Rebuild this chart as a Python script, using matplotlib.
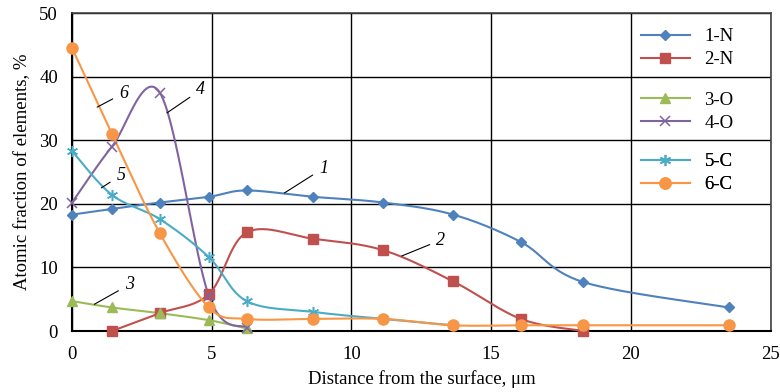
import numpy as np
import matplotlib
matplotlib.use("Agg")
import matplotlib.pyplot as plt

plt.rcParams['font.family'] = ['Liberation Serif', 'DejaVu Serif']

# distance from the surface, um (measurement depths)
depth = [0, 1.43, 3.14, 4.9, 6.25, 8.64, 11.14, 13.64, 16.06, 18.29, 23.5]

n1 = [18.3, 19.2, 20.2, 21.1, 22.1, 21.1, 20.2, 18.3, 14.0, 7.7, 3.7]
n2 = [0.0, 2.8, 5.8, 15.5, 14.5, 12.7, 7.8, 1.9, 0.0]
o3 = [4.7, 3.7, 2.8, 1.7, 0.4]
o4 = [20.2, 29.0, 37.5, 5.5, 0.5]
c5 = [28.3, 21.4, 17.6, 11.6, 4.7, 3.0, 1.9, 0.9]
c6 = [44.5, 31.0, 15.4, 3.7, 1.9, 1.9, 1.9, 0.9, 0.9, 0.9, 0.9]

x_n2 = depth[1:10]
x_o = depth[:5]
x_c5 = depth[:8]

labels = ['1-N', '2-N', '3-O', '4-O', '5-C', '6-C']
colors = ['#4F81BD', '#C0504D', '#9BBB59', '#8064A2', '#4BACC6', '#F79646']
markers = ['D', 's', '^', 'x', (6, 2, 0), 'o']
msizes = [5.5, 7.5, 7, 7, 8, 8]

# curve labels: text position and leader line start
curve_tags = ['1', '2', '3', '4', '5', '6']
tag_xy = [(9.0, 25.6), (13.2, 14.3), (2.05, 7.3), (4.6, 37.9), (1.75, 24.5), (1.85, 37.4)]
tag_from = [(7.6, 21.7), (11.8, 11.8), (0.8, 4.2), (3.4, 34.3), (1.05, 22.5), (0.9, 35.2)]


def smooth(x, y, steps=30):
    # Excel-style smoothed line (Catmull-Rom as cubic Bezier)
    x = np.asarray(x, float)
    y = np.asarray(y, float)
    p = np.column_stack([x, y])
    pts = np.vstack([p[0], p, p[-1]])
    out = []
    t = np.linspace(0, 1, steps)[:, None]
    for i in range(1, len(pts) - 2):
        p0, p1, p2, p3 = pts[i - 1], pts[i], pts[i + 1], pts[i + 2]
        c1 = p1 + (p2 - p0) / 6
        c2 = p2 - (p3 - p1) / 6
        seg = ((1 - t) ** 3) * p1 + 3 * ((1 - t) ** 2) * t * c1 + 3 * (1 - t) * t ** 2 * c2 + t ** 3 * p2
        out.append(seg)
    s = np.vstack(out)
    return s[:, 0], s[:, 1]


fig = plt.figure(figsize=(7.8, 3.92), dpi=100)
ax = fig.add_axes([0.0923, 0.1556, 0.8957, 0.8112])

series = [(depth, n1), (x_n2, n2), (x_o, o3), (x_o, o4), (x_c5, c5), (depth, c6)]
handles = []
for (xs, ys), lab, col, mk, ms in zip(series, labels, colors, markers, msizes):
    sx, sy = smooth(xs, ys)
    ax.plot(sx, sy, color=col, lw=1.5, zorder=3, clip_on=False)
    thin = mk == 'x' or isinstance(mk, tuple)
    ax.plot(xs, ys, ls='none', marker=mk, ms=ms, color=col, mec=col,
            mew=1.1 if thin else 1, zorder=4, clip_on=False)
    h, = ax.plot([], [], color=col, lw=1.5, marker=mk, ms=ms, mec=col,
                 mew=1.1 if thin else 1)
    handles.append(h)

for tag, (tx, ty), (fx, fy) in zip(curve_tags, tag_xy, tag_from):
    ax.annotate(tag, xy=(fx, fy), xytext=(tx, ty), fontsize=13, style='italic',
                ha='center', va='center', zorder=5,
                arrowprops=dict(arrowstyle='-', color='black', lw=0.8, shrinkA=3, shrinkB=0))

ax.set_xlim(0, 25)
ax.set_ylim(0, 50)
ax.set_xticks([0, 5, 10, 15, 20, 25])
ax.set_yticks([0, 10, 20, 30, 40, 50])
ax.grid(True, color='black', lw=1)
ax.set_axisbelow(True)
ax.tick_params(length=0, labelsize=13.5)
ax.tick_params(axis='x', pad=11)
ax.tick_params(axis='y', pad=10)
for sp in ['left', 'bottom']:
    ax.spines[sp].set_linewidth(1.5)
for sp in ['top', 'right']:
    ax.spines[sp].set_color('#444444')
    ax.spines[sp].set_linewidth(1.2)

ax.set_xlabel('Distance from the surface, μm', fontsize=13.5, labelpad=5)
ax.set_ylabel('Atomic fraction of elements, %', fontsize=13.5, labelpad=6)

leg_y = [1.005, 0.805, 0.612]
for k in range(3):
    lg = ax.legend(handles[2 * k:2 * k + 2], labels[2 * k:2 * k + 2], loc='upper left',
                   bbox_to_anchor=(0.79, leg_y[k]), frameon=False, fontsize=13.5,
                   handlelength=2.6, labelspacing=0.3, handletextpad=0.8)
    ax.add_artist(lg)

fig.savefig('out.png', dpi=100)
